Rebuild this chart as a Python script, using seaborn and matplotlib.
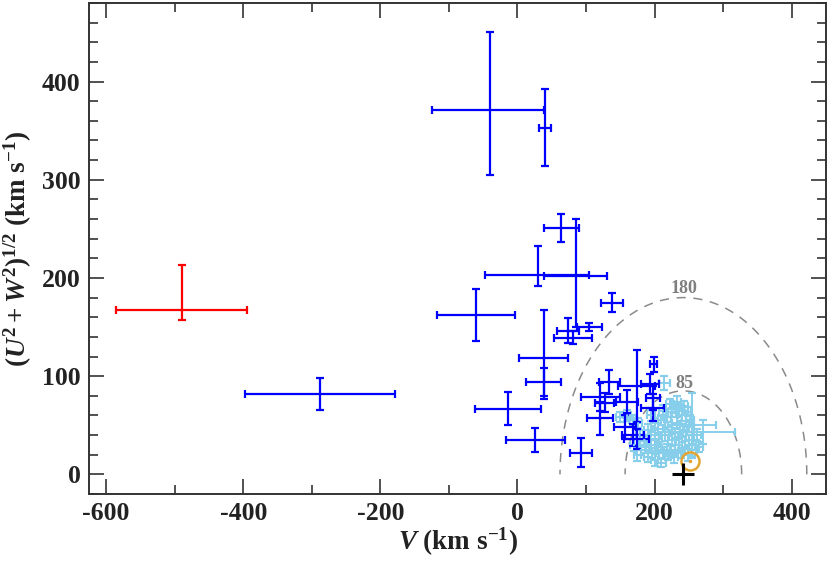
import numpy as np
import matplotlib
matplotlib.use("Agg")
import matplotlib.pyplot as plt
import seaborn as sns
import pandas as pd

# ---- data (km/s) ----
# red (halo outlier)
red_x = [-490]
red_y = [167]
red_xerr = [[95], [95]]
red_yerr = [[10], [46]]

# blue stars
blue_x = [-40, 40, 64, 30, 85, -61, 138, 73, 81, 105, 38, 38, -14, 26, 92, -288,
          134, 174, 199, 193, 121, 121, 160, 157, 174, 197, 127, 169, 198]
blue_y = [371, 353, 251, 203, 202, 162, 175, 146, 139, 150, 118, 94, 67, 35, 22, 82,
          94, 90, 112, 92, 79, 57, 74, 48, 36, 68, 73, 40, 78]
blue_xlo = [85, 9, 26, 78, 46, 57, 16, 16, 28, 18, 36, 26, 48, 43, 16, 109,
            15, 27, 5, 13, 29, 19, 16, 16, 18, 17, 14, 16, 10]
blue_xhi = [78, 9, 26, 75, 46, 57, 16, 16, 28, 18, 36, 26, 48, 43, 16, 109,
            15, 27, 5, 13, 29, 19, 16, 16, 18, 17, 14, 16, 10]
blue_ylo = [66, 39, 14, 11, 52, 26, 10, 12, 6, 4, 41, 14, 17, 12, 15, 16,
            12, 37, 8, 10, 14, 17, 12, 12, 10, 14, 10, 11, 12]
blue_yhi = [79, 39, 14, 30, 58, 27, 10, 13, 7, 4, 49, 14, 17, 12, 15, 16,
            12, 37, 8, 10, 14, 17, 12, 12, 10, 14, 10, 11, 12]

# light blue stars
lb_x = [214, 255, 271, 222, 230, 226, 236, 243, 240, 248, 232, 150, 160, 168, 176,
        195, 200, 205, 210, 215, 220, 225, 230, 235, 240, 245, 250, 255, 260,
        200, 190, 185, 195, 205, 212, 220, 228, 238, 248,
        180, 175, 190, 200, 210, 218, 230, 242, 250, 232,
        212, 218, 206, 196, 186, 178, 170, 252, 262, 265]
lb_y = [93, 50, 43, 72, 68, 63, 66, 70, 60, 64, 74, 58, 60, 55, 52,
        60, 52, 46, 55, 40, 48, 35, 42, 30, 38, 28, 35, 25, 30,
        40, 45, 35, 30, 28, 22, 20, 18, 22, 20,
        25, 20, 18, 15, 12, 25, 25, 45, 48, 52,
        65, 58, 36, 22, 28, 40, 30, 55, 40, 28]
lb_xerr = [8, 35, 46, 6, 5, 7, 6, 5, 6, 5, 6, 7, 6, 5, 6,
           6, 5, 7, 5, 6, 5, 6, 7, 5, 6, 5, 6, 7, 5,
           6, 5, 6, 7, 5, 6, 5, 6, 5, 6,
           7, 5, 6, 5, 6, 5, 6, 5, 7, 6,
           5, 6, 5, 6, 7, 5, 6, 6, 5, 6]
lb_yerr = [7, 33, 12, 5, 6, 5, 6, 5, 6, 5, 6, 5, 6, 5, 5,
           6, 5, 6, 5, 6, 5, 6, 5, 6, 5, 6, 5, 6, 5,
           5, 6, 5, 6, 5, 6, 5, 6, 5, 6,
           5, 6, 5, 6, 5, 6, 5, 6, 5, 6,
           6, 5, 6, 5, 6, 5, 6, 5, 6, 5]

# Toomre circles
circ_center = 242
circ_radii = [85, 180]
circ_labels = ["85", "180"]
circ_label_pos = [(243, 93), (243, 189)]

# Sun and LSR symbols
sun_x, sun_y = 251, 14
lsr_x, lsr_y = 241.5, 0

# ---- style ----
sns.set_theme(style="ticks")
plt.rcParams.update({
    "font.family": ["Liberation Serif", "DejaVu Serif"],
    "font.weight": "bold",
    "axes.unicode_minus": False,
    "mathtext.fontset": "custom",
    "mathtext.rm": "Liberation Serif:bold",
    "mathtext.it": "Liberation Serif:italic:bold",
    "mathtext.bf": "Liberation Serif:bold",
})

fig = plt.figure(figsize=(8.3, 5.62), dpi=100)
ax = fig.add_axes([89 / 830, 1 - 494 / 562, (826 - 89) / 830, (494 - 3) / 562])

# dashed velocity circles
th = np.linspace(0, np.pi, 300)
for r, lab, (lx, ly) in zip(circ_radii, circ_labels, circ_label_pos):
    ax.plot(circ_center + r * np.cos(th), r * np.sin(th), color="#8a8a8a",
            lw=1.1, ls=(0, (6, 5)), zorder=1)
    ax.text(lx, ly, lab, color="#7f7f7f", fontsize=13, fontweight="bold",
            ha="center", va="center", zorder=2)

ebkw = dict(fmt="none", capsize=2.6, capthick=1.6)
ax.errorbar(lb_x, lb_y, xerr=lb_xerr, yerr=lb_yerr, ecolor="#87CEEB",
            elinewidth=1.4, zorder=3, **ebkw)
ax.errorbar(blue_x, blue_y, xerr=[blue_xlo, blue_xhi], yerr=[blue_ylo, blue_yhi],
            ecolor="#0000FF", elinewidth=1.6, zorder=4, **ebkw)
ax.errorbar(red_x, red_y, xerr=red_xerr, yerr=red_yerr, ecolor="#FF0000",
            elinewidth=1.6, zorder=4, **ebkw)

# seaborn layer for the centres (tiny points in the series colours)
df = pd.DataFrame({
    "V": blue_x + lb_x + red_x,
    "UW": blue_y + lb_y + red_y,
    "grp": ["blue"] * len(blue_x) + ["lb"] * len(lb_x) + ["red"] * len(red_x),
})
sns.scatterplot(data=df, x="V", y="UW", hue="grp",
                palette={"blue": "#0000FF", "lb": "#87CEEB", "red": "#FF0000"},
                s=3, linewidth=0, legend=False, ax=ax, zorder=5)

# Sun symbol and LSR cross
ax.plot([sun_x], [sun_y], "o", ms=13, mfc="none", mec="#E3A532", mew=1.8, zorder=6)
ax.plot([sun_x], [sun_y], "o", ms=2.5, mfc="#E3A532", mec="none", zorder=6)
ax.plot([lsr_x], [lsr_y], "+", ms=16, color="black", mew=2.2, zorder=6)

ax.set_xlim(-625, 450)
ax.set_ylim(-20, 480)
ax.set_xticks([-600, -400, -200, 0, 200, 400])
ax.set_xticks(np.arange(-500, 450, 200), minor=True)
ax.set_yticks([0, 100, 200, 300, 400])
ax.set_yticks(np.arange(-20, 481, 20), minor=True)

for s in ax.spines.values():
    s.set_color("#333333")
    s.set_linewidth(1.4)
ax.tick_params(which="both", direction="in", top=True, right=True,
               color="#333333", width=1.2)
ax.tick_params(which="major", length=11, labelsize=18.5, labelcolor="#222222")
ax.tick_params(which="minor", length=6.5)
ax.tick_params(axis="x", which="major", pad=6)
ax.tick_params(axis="y", which="major", pad=6)
for lbl in ax.get_xticklabels() + ax.get_yticklabels():
    lbl.set_fontweight("bold")

ax.set_xlabel(r"$V$ (km s$^{-1}$)", fontsize=19.5, fontweight="bold",
              color="#222222", labelpad=0)
ax.set_ylabel(r"$(U^2 + W^2)^{1/2}$ (km s$^{-1}$)", fontsize=19.5,
              fontweight="bold", color="#222222", labelpad=6)

fig.savefig("out.png", dpi=100)
